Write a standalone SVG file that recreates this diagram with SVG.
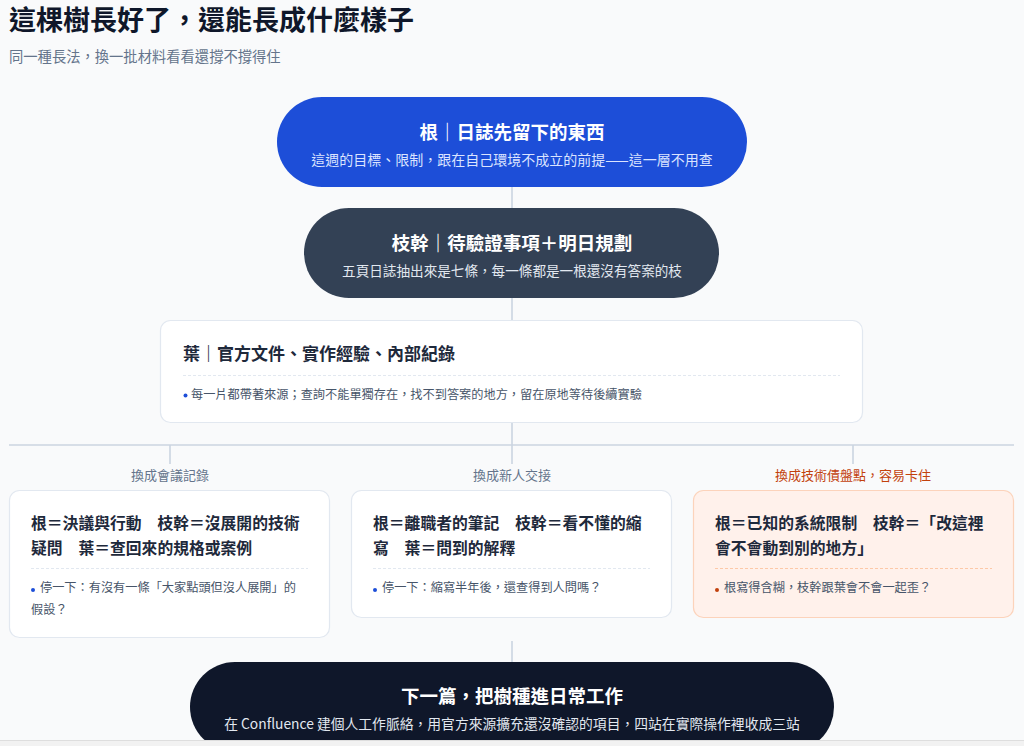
<svg xmlns="http://www.w3.org/2000/svg" width="1024" height="746" viewBox="0 0 1024 746">
<style>
text{font-family:"Noto Sans CJK TC","Noto Sans CJK SC",sans-serif}
.h1{font-size:27px;font-weight:700;fill:#0f172a}
.sub{font-size:14.3px;fill:#64748b}
.pt{font-size:18.5px;font-weight:700;fill:#fff}
.ps{font-size:13.6px;fill:#e2e8f0}
.ct{font-size:17px;font-weight:700;fill:#1e293b}
.cb{font-size:12.2px;fill:#475569}
.kt{font-size:15.8px;font-weight:700;fill:#1e293b}
.lb{font-size:13px;fill:#64748b}
.card{fill:#fff;stroke:#e2e8f0;stroke-width:1.2}
.dash{stroke:#e2e8f0;stroke-width:1;stroke-dasharray:3 2}
.conn{stroke:#cbd5e1;stroke-width:1.6;fill:none}
</style>
<rect width="1024" height="746" fill="#f9fafb"/>
<text class="h1" x="9" y="30">這棵樹長好了，還能長成什麼樣子</text>
<text class="sub" x="9" y="62">同一種長法，換一批材料看看還撐不撐得住</text>
<g id="connectors">
<line class="conn" x1="512" y1="187" x2="512" y2="208"/>
<line class="conn" x1="512" y1="298" x2="512" y2="320"/>
<line class="conn" x1="512" y1="423" x2="512" y2="445"/>
<line class="conn" x1="9" y1="445" x2="1014" y2="445"/>
<line class="conn" x1="170" y1="445" x2="170" y2="464"/>
<line class="conn" x1="512" y1="445" x2="512" y2="464"/>
<line class="conn" x1="853" y1="445" x2="853" y2="464"/>
<line class="conn" x1="512" y1="641" x2="512" y2="662"/>
</g>
<g id="root">
<rect x="277" y="97" width="470" height="90" rx="45" fill="#1d4ed8"/>
<text class="pt" x="512" y="139" text-anchor="middle">根｜日誌先留下的東西</text>
<text class="ps" x="512" y="165" text-anchor="middle" style="font-size:14px;fill:#dbe4ff">這週的目標、限制，跟在自己環境不成立的前提——這一層不用查</text>
</g>
<g id="trunk">
<rect x="304" y="208" width="415" height="90" rx="45" fill="#334155"/>
<text class="pt" x="512" y="250" text-anchor="middle">枝幹｜待驗證事項＋明日規劃</text>
<text class="ps" x="512" y="276" text-anchor="middle">五頁日誌抽出來是七條，每一條都是一根還沒有答案的枝</text>
</g>
<g id="leaves">
<rect class="card" x="160.5" y="320.5" width="702" height="102" rx="10"/>
<text class="ct" x="183" y="360">葉｜官方文件、實作經驗、內部紀錄</text>
<line class="dash" x1="183" y1="375.5" x2="840" y2="375.5"/>
<circle cx="185.5" cy="395.5" r="2" fill="#1d4ed8"/>
<text class="cb" x="191" y="399">每一片都帶著來源；查詢不能單獨存在，找不到答案的地方，留在原地等待後續實驗</text>
</g>
<g id="label-meeting">
<text class="lb" x="170" y="480" text-anchor="middle">換成會議記錄</text>
</g>
<g id="label-handover">
<text class="lb" x="512" y="480" text-anchor="middle">換成新人交接</text>
</g>
<g id="label-debt">
<text class="lb" x="853" y="480" text-anchor="middle" style="fill:#c2410c">換成技術債盤點，容易卡住</text>
</g>
<g id="card-meeting">
<rect class="card" x="9.5" y="490.5" width="320" height="147" rx="10"/>
<text class="kt" x="31" y="529">根＝決議與行動　枝幹＝沒展開的技術</text>
<text class="kt" x="31" y="554">疑問　葉＝查回來的規格或案例</text>
<line class="dash" x1="31" y1="568.5" x2="308" y2="568.5"/>
<circle cx="33" cy="590" r="2" fill="#1d4ed8"/>
<text class="cb" x="40" y="592">停一下：有沒有一條「大家點頭但沒人展開」的</text>
<text class="cb" x="31" y="614">假設？</text>
</g>
<g id="card-handover">
<rect class="card" x="351.5" y="490.5" width="320" height="127" rx="10"/>
<text class="kt" x="373" y="529">根＝離職者的筆記　枝幹＝看不懂的縮</text>
<text class="kt" x="373" y="554">寫　葉＝問到的解釋</text>
<line class="dash" x1="373" y1="568.5" x2="650" y2="568.5"/>
<circle cx="375" cy="590" r="2" fill="#1d4ed8"/>
<text class="cb" x="382" y="592">停一下：縮寫半年後，還查得到人問嗎？</text>
</g>
<g id="card-debt">
<rect x="693.5" y="490.5" width="320" height="127" rx="10" fill="#fff1eb" stroke="#fcd3bb" stroke-width="1.2"/>
<text class="kt" x="715" y="529">根＝已知的系統限制　枝幹＝「改這裡</text>
<text class="kt" x="715" y="554">會不會動到別的地方」</text>
<line x1="715" y1="568.5" x2="992" y2="568.5" stroke="#fdc9a8" stroke-width="1" stroke-dasharray="3 2"/>
<circle cx="717" cy="590" r="2" fill="#c2410c"/>
<text class="cb" x="724" y="592">根寫得含糊，枝幹跟葉會不會一起歪？</text>
</g>
<g id="next">
<rect x="190" y="662" width="644" height="90" rx="45" fill="#0f172a"/>
<text class="pt" x="512" y="703" text-anchor="middle">下一篇，把樹種進日常工作</text>
<text class="ps" x="512" y="729" text-anchor="middle" style="font-size:13.8px">在 Confluence 建個人工作脈絡，用官方來源擴充還沒確認的項目，四站在實際操作裡收成三站</text>
</g>
<rect x="0" y="740" width="1024" height="6" fill="#f2f2f2"/>
<line x1="0" y1="740.5" x2="1024" y2="740.5" stroke="#dedede" stroke-width="1"/>
</svg>
